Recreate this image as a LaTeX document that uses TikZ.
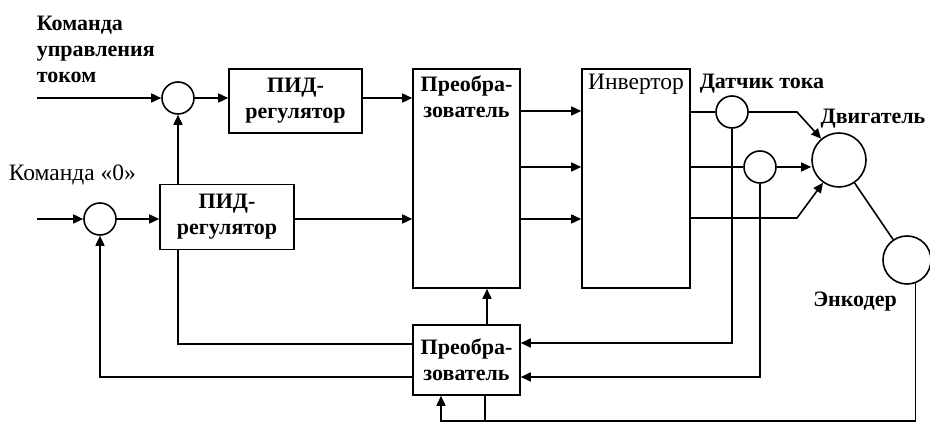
\documentclass[tikz,border=0pt]{standalone}
\usepackage{fontspec}
\setmainfont{Liberation Serif}
\usetikzlibrary{arrows.meta,calc}
\begin{document}
\begin{tikzpicture}[x=1pt,y=-1pt,
  line width=1.6pt,
  arr/.style={-{Triangle[length=10pt,width=9pt]}},
  sumc/.style={draw,circle,inner sep=0pt,minimum size=32pt},
  blk/.style={draw,rectangle,inner sep=0pt},
  bt/.style={font=\bfseries\fontsize{22}{26}\selectfont,align=center,inner sep=0pt},
  nt/.style={font=\fontsize{23.5}{27}\selectfont,inner sep=0pt}
]
\useasboundingbox (0,0) rectangle (930,427);
% blocks
\node[sumc] (c1) at (178,98) {};
\node[sumc] (c2) at (100,219) {};
\node[blk,minimum width=133pt,minimum height=64pt] (pid1) at (295.5,101) {};
\node[blk,minimum width=134pt,minimum height=65pt] (pid2) at (227,217) {};
\node[blk,minimum width=107pt,minimum height=219pt] (conv1) at (466.5,178.5) {};
\node[blk,minimum width=108pt,minimum height=219pt] (inv) at (636,178.5) {};
\node[blk,minimum width=107pt,minimum height=70pt] (conv2) at (466.5,360) {};
\node[sumc] (s1) at (732,112) {};
\node[sumc] (s2) at (760,167) {};
\node[draw,circle,inner sep=0pt,minimum size=54pt] (motor) at (839,160) {};
\node[draw,circle,inner sep=0pt,minimum size=48pt] (enc) at (907,260) {};
% texts
\node[bt,anchor=west,align=left] (tcmd) at (36,49) {Команда\\управления\\током};
\node[nt,anchor=west] (tzero) at (8,175) {Команда «0»};
\node[bt] (tpid1) at (pid1) {ПИД-\\регулятор};
\node[bt] (tpid2) at (pid2) {ПИД-\\регулятор};
\node[bt] (tconv1) at (466.5,97) {Преобра-\\зователь};
\node[bt] (tconv2) at (conv2) {Преобра-\\зователь};
\node[nt] (tinv) at (636,84) {Инвертор};
\node[bt] (tsens) at (762,84) {Датчик тока};
\node[bt] (tmot) at (873,119) {Двигатель};
\node[bt] (tenc) at (855,302) {Энкодер};
% inputs
\coordinate (in1) at (37,98);
\coordinate (in2) at (37,219);
\draw[arr] (in1) -- (c1.west);
\draw[arr] (in2) -- (c2.west);
\draw[arr] (c1.east) -- (pid1.west |- c1);
\draw[arr] (c2.east) -- (pid2.west |- c2);
\draw[arr] (pid1.east |- c1) -- (conv1.west |- c1);
\draw[arr] (pid2.east |- c2) -- (conv1.west |- c2);
\draw[arr] (c1.south |- pid2.north) -- (c1.south);
% converter to inverter
\foreach \yy in {111,167,219}{
  \draw[arr] (conv1.east |- 0,\yy) -- (inv.west |- 0,\yy);
}
% inverter to motor
\coordinate (k1) at (797,112);
\coordinate (k3) at (797,218);
\draw (inv.east |- s1) -- (s1.west);
\draw[arr] (s1.east) -- (k1) -- (motor.130);
\draw (inv.east |- s2) -- (s2.west);
\draw[arr] (s2.east) -- (s2 -| motor.west);
\draw[arr] (inv.east |- k3) -- (k3) -- (motor.235);
\draw (motor) -- (enc);
% sensor feedback
\draw[arr] (s1.south) -- (s1 |- 0,343) -- (conv2.east |- 0,343);
\draw[arr] (s2.south) -- (s2 |- 0,377) -- (conv2.east |- 0,377);
% encoder feedback
\coordinate (eb) at (enc.-70 |- 0,421);
\coordinate (cb) at (441,421);
\draw[arr] (enc.-70) -- (eb) -- (cb) -- (cb |- conv2.south);
\draw (485,395) -- (485,421);
% converter2 up
\draw[arr] (487,325) -- (conv1.south -| 487,0);
% converter2 to left
\draw (conv2.west |- 0,344) -- (c1.south |- 0,344) -- (c1.south |- pid2.south);
\draw[arr] (conv2.west |- 0,377) -- (c2 |- 0,377) -- (c2.south);
\end{tikzpicture}
\end{document}
